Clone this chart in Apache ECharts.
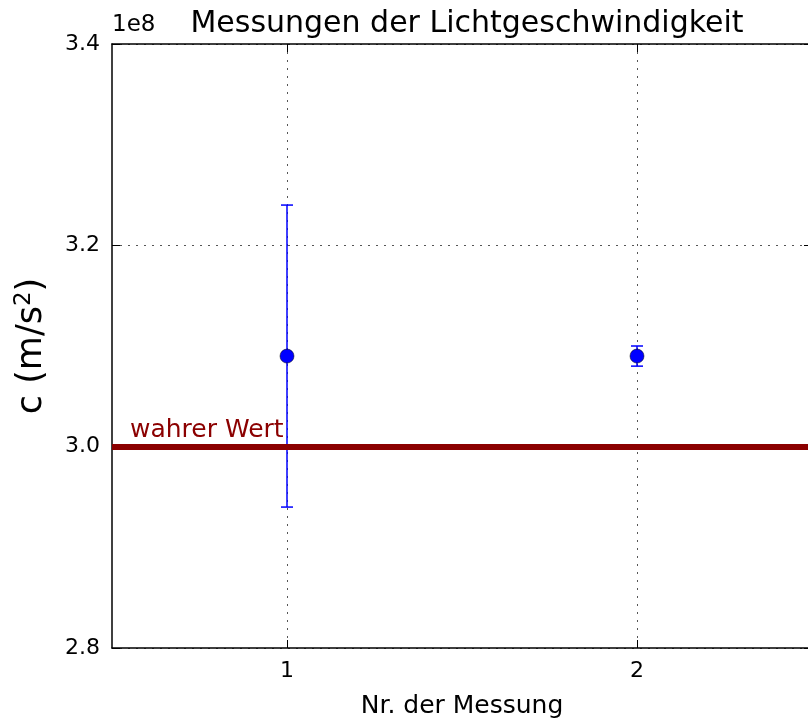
<!DOCTYPE html>
<html>
<head>
<meta charset="utf-8">
<script src="https://cdn.jsdelivr.net/npm/echarts@6/dist/echarts.min.js"></script>
<style>
html,body{margin:0;padding:0;background:#fff;overflow:hidden;}
#chart{width:808px;height:719px;}
</style>
</head>
<body>
<div id="chart"></div>
<script>
// Data (values in units of 1e8 m/s)
const measurementNr = [1, 2];
const cValues = [3.09, 3.09];
const cErrors = [0.15, 0.01];
const trueValue = 2.999;
const xTicks = [1, 2];

const font = 'DejaVu Sans';
const chart = echarts.init(document.getElementById('chart'));

const errData = measurementNr.map((x, i) => [x, cValues[i], cErrors[i]]);
const ptData = measurementNr.map((x, i) => [x, cValues[i]]);
const gridLine = {show: true, lineStyle: {color: '#555', type: [2, 6], width: 1}};

chart.setOption({
  animation: false,
  backgroundColor: '#fff',
  title: {
    text: 'Messungen der Lichtgeschwindigkeit',
    left: 462, top: 4, textAlign: 'center',
    textStyle: {fontFamily: font, fontSize: 30, fontWeight: 'normal', color: '#000'}
  },
  grid: {left: 112, top: 44, width: 700, height: 604, containLabel: false, outerBoundsMode: 'none'},
  xAxis: [{
    type: 'value', min: 0.5, max: 2.5, position: 'bottom',
    name: 'Nr. der Messung', nameLocation: 'middle', nameGap: 46,
    nameTextStyle: {fontFamily: font, fontSize: 25, color: '#000'},
    axisLine: {show: true, onZero: false, lineStyle: {color: '#000', width: 1.5}},
    axisTick: {show: true, inside: true, length: 8, customValues: xTicks, lineStyle: {color: '#000', width: 1}},
    axisLabel: {customValues: xTicks, fontFamily: font, fontSize: 22, color: '#000', margin: 12},
    splitLine: gridLine
  }, {
    type: 'value', min: 0.5, max: 2.5, position: 'top',
    axisLine: {show: true, onZero: false, lineStyle: {color: '#000', width: 1.5}},
    axisTick: {show: true, inside: true, length: 8, customValues: xTicks, lineStyle: {color: '#000', width: 1}},
    axisLabel: {show: false},
    splitLine: {show: false}
  }],
  yAxis: [{
    type: 'value', min: 2.8, max: 3.4, interval: 0.2, position: 'left',
    axisLine: {show: true, onZero: false, lineStyle: {color: '#000', width: 1.5}},
    axisTick: {show: true, inside: true, length: 8, lineStyle: {color: '#000', width: 1}},
    axisLabel: {fontFamily: font, fontSize: 22, color: '#000', margin: 12,
      formatter: v => v.toFixed(1)},
    splitLine: gridLine
  }, {
    type: 'value', min: 2.8, max: 3.4, interval: 0.2, position: 'right',
    axisLine: {show: true, onZero: false, lineStyle: {color: '#000', width: 1.5}},
    axisTick: {show: true, inside: true, length: 8},
    axisLabel: {show: false}, splitLine: {show: false}
  }],
  graphic: [{
    type: 'text', left: 112, top: 14,
    style: {text: '1e8', fontFamily: font, fontSize: 23, fill: '#000'}
  }, {
    type: 'text', x: 32, y: 346, rotation: Math.PI / 2,
    style: {
      text: 'c (m/s{sup|2})', fontFamily: font, fontSize: 35, fill: '#000',
      align: 'center', verticalAlign: 'middle',
      rich: {sup: {fontFamily: font, fontSize: 23, verticalAlign: 'top', padding: [0, 0, 16, 0]}}
    }
  }],
  series: [{
    type: 'line', data: [], xAxisIndex: 0, yAxisIndex: 0, z: 1,
    markLine: {
      silent: true, symbol: 'none',
      lineStyle: {color: '#8b0000', width: 6, type: 'solid'},
      label: {show: true, position: 'insideStartTop', formatter: 'wahrer Wert',
        fontFamily: font, fontSize: 25, color: '#8b0000', distance: [18, 4]},
      data: [{yAxis: trueValue}]
    }
  }, {
    type: 'custom', xAxisIndex: 0, yAxisIndex: 0, z: 3,
    data: errData,
    renderItem: (params, api) => {
      const x = api.value(0), y = api.value(1), e = api.value(2);
      const top = api.coord([x, y + e]);
      const bot = api.coord([x, y - e]);
      const cap = 6;
      const style = {stroke: '#0000ff', lineWidth: 1.5};
      return {type: 'group', children: [
        {type: 'line', shape: {x1: top[0], y1: top[1], x2: bot[0], y2: bot[1]}, style},
        {type: 'line', shape: {x1: top[0] - cap, y1: top[1], x2: top[0] + cap, y2: top[1]}, style},
        {type: 'line', shape: {x1: bot[0] - cap, y1: bot[1], x2: bot[0] + cap, y2: bot[1]}, style}
      ]};
    }
  }, {
    type: 'scatter', xAxisIndex: 0, yAxisIndex: 0, z: 4,
    data: ptData, symbol: 'circle', symbolSize: 14,
    itemStyle: {color: '#0000ff', borderColor: '#000', borderWidth: 0.5, opacity: 1}
  }]
});
</script>
</body>
</html>
